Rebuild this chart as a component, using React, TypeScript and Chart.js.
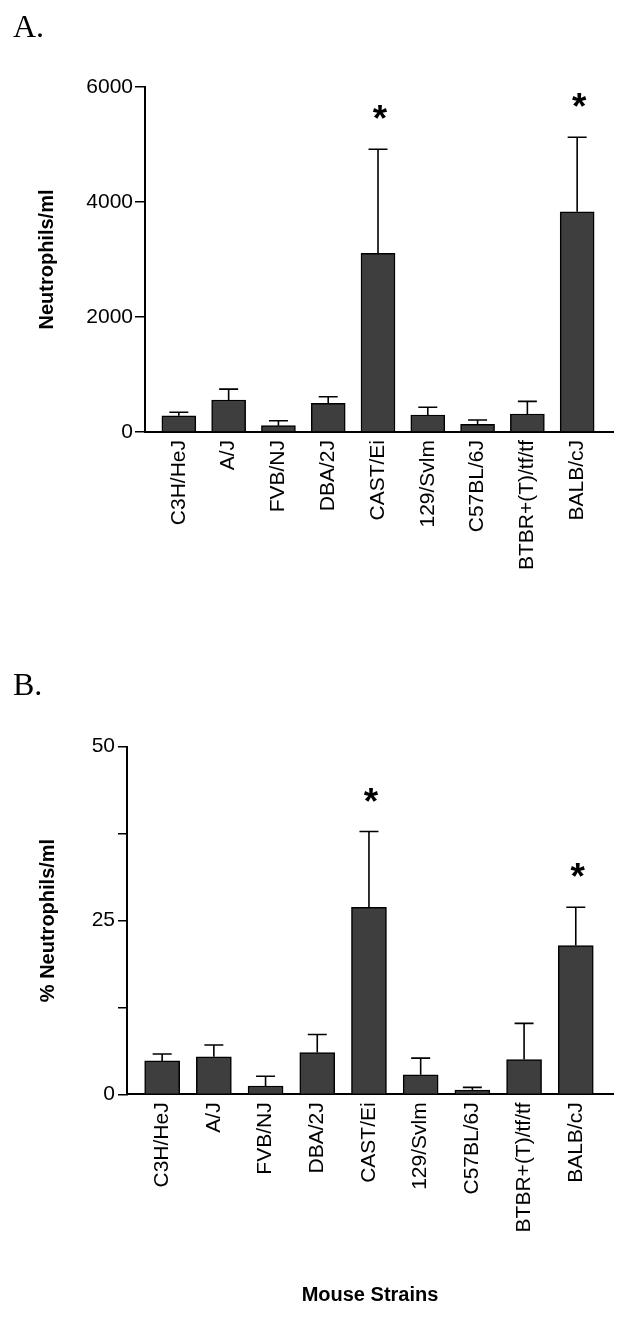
import React, { useEffect, useRef } from 'react';
import { Chart, registerables } from 'chart.js';

Chart.register(...registerables);

const strains = ['C3H/HeJ', 'A/J', 'FVB/NJ', 'DBA/2J', 'CAST/Ei', '129/Svlm', 'C57BL/6J', 'BTBR+(T)/tf/tf', 'BALB/cJ'];
const neutrophilsMean = [283, 556, 110, 499, 3107, 296, 134, 313, 3831];
const neutrophilsSem = [60, 190, 85, 115, 1810, 135, 75, 220, 1295];
const percentMean = [4.8, 5.4, 1.2, 6.0, 26.9, 2.8, 0.6, 5.0, 21.4];
const percentSem = [1.0, 1.7, 1.4, 2.6, 10.9, 2.4, 0.4, 5.2, 5.5];
const significantIdx = [4, 8];
const yTicksA = [0, 2000, 4000, 6000];
const yTicksB = [0, 12.5, 25, 37.5, 50];
const yLabelsB = [0, 25, 50];

const SANS = '"Liberation Sans", Arial, sans-serif';
const BAR_COLOR = '#3e3e3e';

const errorStarPlugin = {
  id: 'errorStars',
  afterDatasetsDraw(chart: any, _args: any, opts: any) {
    const { ctx } = chart;
    const meta = chart.getDatasetMeta(0);
    const yScale = chart.scales.y;
    const means: number[] = opts.means;
    const sems: number[] = opts.sems;
    ctx.save();
    ctx.strokeStyle = '#000';
    ctx.lineWidth = 1.6;
    meta.data.forEach((el: any, i: number) => {
      const top = yScale.getPixelForValue(means[i] + sems[i]);
      ctx.beginPath();
      ctx.moveTo(el.x, el.y);
      ctx.lineTo(el.x, top);
      ctx.moveTo(el.x - 9.5, top);
      ctx.lineTo(el.x + 9.5, top);
      ctx.stroke();
    });
    ctx.fillStyle = '#000';
    ctx.font = `bold 37px ${SANS}`;
    ctx.textAlign = 'center';
    ctx.textBaseline = 'alphabetic';
    (opts.stars as number[]).forEach((i) => {
      const el = meta.data[i];
      const top = yScale.getPixelForValue(means[i] + sems[i]);
      const m = ctx.measureText('*');
      const center = top - 37;
      const base = center + (m.actualBoundingBoxAscent - m.actualBoundingBoxDescent) / 2;
      ctx.fillText('*', el.x + 2, base);
    });
    ctx.restore();
  },
};

type PanelProps = {
  width: number;
  height: number;
  means: number[];
  sems: number[];
  yMax: number;
  yTicks: number[];
  yLabels: number[];
  yTitle: string;
  yTitlePad: number;
  xTitle?: string;
  areaLeft: number;
  areaRight: number;
  areaTop: number;
  areaBottom: number;
  barWidth: number;
  tickLen: number;
  tickPad: number;
};

function Panel(p: PanelProps) {
  const ref = useRef<HTMLCanvasElement | null>(null);
  useEffect(() => {
    if (!ref.current) return;
    const chart = new Chart(ref.current, {
      type: 'bar',
      data: {
        datasets: [
          {
            data: p.means.map((v, i) => ({ x: i, y: v })),
            backgroundColor: BAR_COLOR,
            borderColor: '#000',
            borderWidth: 1.5,
            barThickness: p.barWidth,
          },
        ],
      },
      plugins: [errorStarPlugin],
      options: {
        responsive: false,
        animation: false,
        layout: {
          padding: { left: 0, right: p.width - p.areaRight, top: p.areaTop, bottom: 0 },
        },
        plugins: {
          legend: { display: false },
          tooltip: { enabled: false },
          errorStars: { means: p.means, sems: p.sems, stars: significantIdx },
        } as any,
        scales: {
          x: {
            type: 'linear',
            offset: false,
            min: -0.68,
            max: strains.length - 1 + 0.72,
            grid: { display: false, drawTicks: false, offset: false },
            border: { display: true, color: '#000', width: 2 },
            afterBuildTicks: (scale: any) => {
              scale.ticks = strains.map((_, i) => ({ value: i }));
            },
            afterFit: (scale: any) => {
              scale.height = p.height - p.areaBottom;
            },
            ticks: {
              autoSkip: false,
              minRotation: 90,
              maxRotation: 90,
              padding: 8,
              color: '#000',
              font: { family: SANS, size: 21 },
              callback: (v: any) => strains[v as number] ?? '',
            },
            title: p.xTitle
              ? {
                  display: true,
                  text: p.xTitle,
                  color: '#000',
                  font: { family: SANS, size: 20, weight: 'bold' },
                  padding: { top: 0, bottom: 10 },
                }
              : { display: false },
          },
          y: {
            type: 'linear',
            min: 0,
            max: p.yMax,
            afterBuildTicks: (scale: any) => {
              scale.ticks = p.yTicks.map((v) => ({ value: v }));
            },
            afterFit: (scale: any) => {
              scale.width = p.areaLeft;
            },
            grid: {
              display: true,
              drawOnChartArea: false,
              drawTicks: true,
              tickLength: p.tickLen,
              color: '#000',
              lineWidth: 1.5,
            },
            border: { display: true, color: '#000', width: 2 },
            ticks: {
              padding: p.tickPad,
              color: '#000',
              font: { family: SANS, size: 21 },
              callback: (v: any) => (p.yLabels.includes(v as number) ? String(v) : ''),
            },
            title: {
              display: true,
              text: p.yTitle,
              color: '#000',
              font: { family: SANS, size: 20, weight: 'bold' },
              padding: { top: p.yTitlePad, bottom: 0 },
            },
          },
        },
      } as any,
    });
    return () => chart.destroy();
  }, []);
  return <canvas ref={ref} width={p.width} height={p.height} style={{ display: 'block' }} />;
}

const letterStyle: React.CSSProperties = {
  position: 'absolute',
  left: 13,
  fontFamily: '"Liberation Serif", "Times New Roman", serif',
  fontSize: 32,
  lineHeight: '32px',
  color: '#000',
  margin: 0,
};

export default function App() {
  return (
    <div style={{ position: 'absolute', left: 0, top: 0, width: 626, height: 1317, background: '#fff' }}>
      <div style={{ position: 'absolute', left: 0, top: 0 }}>
        <Panel
          width={626}
          height={640}
          means={neutrophilsMean}
          sems={neutrophilsSem}
          yMax={6000}
          yTicks={yTicksA}
          yLabels={yTicksA}
          yTitle="Neutrophils/ml"
          yTitlePad={35}
          areaLeft={145}
          areaRight={613}
          areaTop={87}
          areaBottom={432}
          barWidth={34}
          tickLen={10}
          tickPad={2}
        />
      </div>
      <div style={{ position: 'absolute', left: 0, top: 640 }}>
        <Panel
          width={626}
          height={677}
          means={percentMean}
          sems={percentSem}
          yMax={50}
          yTicks={yTicksB}
          yLabels={yLabelsB}
          yTitle="% Neutrophils/ml"
          yTitlePad={36}
          xTitle="Mouse Strains"
          areaLeft={127}
          areaRight={613}
          areaTop={106.7}
          areaBottom={454.3}
          barWidth={35}
          tickLen={9}
          tickPad={3}
        />
      </div>
      <div style={{ ...letterStyle, top: 10 }}>A.</div>
      <div style={{ ...letterStyle, top: 668 }}>B.</div>
    </div>
  );
}
